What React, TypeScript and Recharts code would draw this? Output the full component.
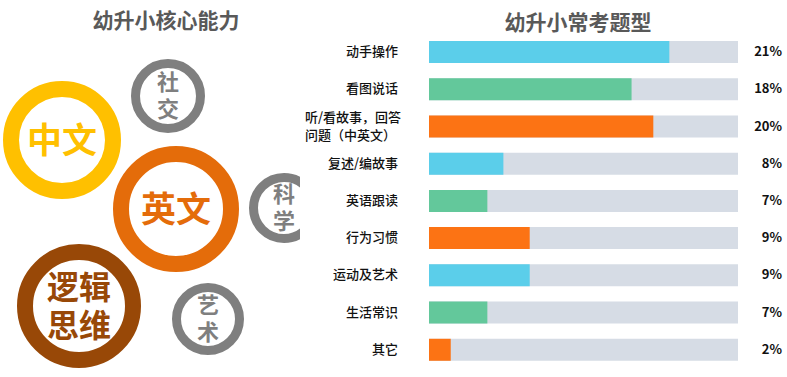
import { BarChart, Bar, XAxis, YAxis, Cell, ScatterChart, Scatter } from 'recharts'

// right chart: exam question types
const categories = [
  '动手操作',
  '看图说话',
  '听/看故事，回答\n问题（中英文）',
  '复述/编故事',
  '英语跟读',
  '行为习惯',
  '运动及艺术',
  '生活常识',
  '其它',
]
const barValues = [21, 17.7, 19.6, 6.5, 5.1, 8.8, 8.8, 5.1, 1.9]
const pctLabels = ['21%', '18%', '20%', '8%', '7%', '9%', '9%', '7%', '2%']
const barColors = ['#5BCEEA', '#63C89B', '#FC7314']

// left diagram: core abilities (small circles are written top-to-bottom)
const abilityLabels = ['中文', '社交', '英文', '科学', '逻辑\n思维', '艺术']
const abilityX = [62, 168, 176, 284, 79, 208]
const abilityY = [140, 96, 209, 208, 306, 319]
const abilityR = [59, 37, 63, 35, 62, 36]
const abilityColors = ['#FFC000', '#7F7F7F', '#E46C0A', '#7F7F7F', '#984807', '#7F7F7F']

const FONT = '"Noto Sans CJK SC", "Noto Sans", sans-serif'

const barData = categories.map((name, i) => ({ name, value: barValues[i], pct: pctLabels[i] }))
const abilityData = abilityLabels.map((label, i) => ({
  label,
  x: abilityX[i],
  y: abilityY[i],
  r: abilityR[i],
  color: abilityColors[i],
}))

function CategoryTick(props: any) {
  const { x, y, payload, index } = props
  const lines = String(payload.value).split('\n')
  const multi = lines.length > 1
  return (
    <g fontFamily={FONT}>
      <text
        x={multi ? x - 124 : x - 31}
        y={y}
        textAnchor={multi ? 'start' : 'end'}
        fontSize={13}
        fontWeight={500}
        fill="#111"
      >
        {lines.map((l, i) => (
          <tspan key={i} x={multi ? x - 124 : x - 31} dy={i === 0 ? (multi ? -4 : 4.5) : 18}>
            {l}
          </tspan>
        ))}
      </text>
      <text x={x + 353} y={y + 4.5} textAnchor="end" fontSize={13} fontWeight={700} fill="#111">
        {pctLabels[index]}
      </text>
    </g>
  )
}

function RingShape(props: any) {
  const { cx, cy, payload } = props
  const big = payload.r > 50
  const thick = big ? 16 : 9
  const lines = String(payload.label).split('\n')
  const circle = (
    <circle cx={cx} cy={cy} r={payload.r - thick / 2} fill="#fff" stroke={payload.color} strokeWidth={thick} />
  )
  if (!big) {
    // vertical text for the small grey circles
    return (
      <g fontFamily={FONT}>
        {circle}
        <text
          x={cx}
          y={cy + 2}
          writingMode="vertical-rl"
          textAnchor="middle"
          fontSize={22}
          fontWeight={700}
          letterSpacing={5}
          fill={payload.color}
        >
          {payload.label}
        </text>
      </g>
    )
  }
  const size = lines.length > 1 ? 32 : 35
  const gap = 38
  const firstDy = -((lines.length - 1) / 2) * gap + size * 0.36
  return (
    <g fontFamily={FONT}>
      {circle}
      <text x={cx} y={cy} textAnchor="middle" fontSize={size} fontWeight={700} fill={payload.color}>
        {lines.map((l, i) => (
          <tspan key={i} x={cx} dy={i === 0 ? firstDy : gap}>
            {l}
          </tspan>
        ))}
      </text>
    </g>
  )
}

const titleStyle = {
  position: 'absolute' as const,
  fontFamily: FONT,
  fontSize: 21,
  fontWeight: 700,
  color: '#595959',
  textAlign: 'center' as const,
  width: 220,
  lineHeight: '28px',
}

export default function App() {
  return (
    <div style={{ position: 'absolute', left: 0, top: 0, width: 787, height: 377, background: '#fff' }}>
      <div style={{ ...titleStyle, left: 166 - 110, top: 5 }}>幼升小核心能力</div>
      <div style={{ ...titleStyle, left: 578 - 110, top: 7 }}>幼升小常考题型</div>

      <div style={{ position: 'absolute', left: 0, top: 0 }}>
        <ScatterChart width={300} height={377} margin={{ top: 0, right: 0, bottom: 0, left: 0 }}>
          <XAxis type="number" dataKey="x" domain={[0, 300]} hide />
          <YAxis type="number" dataKey="y" domain={[0, 377]} reversed hide />
          <Scatter data={abilityData} shape={<RingShape />} isAnimationActive={false} />
        </ScatterChart>
      </div>

      <div style={{ position: 'absolute', left: 300, top: 0 }}>
        <BarChart
          width={487}
          height={377}
          data={barData}
          layout="vertical"
          margin={{ top: 33, right: 49, bottom: 9, left: 0 }}
        >
          <XAxis type="number" domain={[0, 27]} hide />
          <YAxis
            type="category"
            dataKey="name"
            width={129}
            axisLine={false}
            tickLine={false}
            tickSize={0}
            tickMargin={0}
            tick={<CategoryTick />}
          />
          <Bar dataKey="value" barSize={22} background={{ fill: '#D6DCE5' }} isAnimationActive={false}>
            {barData.map((_, i) => (
              <Cell key={i} fill={barColors[i % 3]} />
            ))}
          </Bar>
        </BarChart>
      </div>
    </div>
  )
}
